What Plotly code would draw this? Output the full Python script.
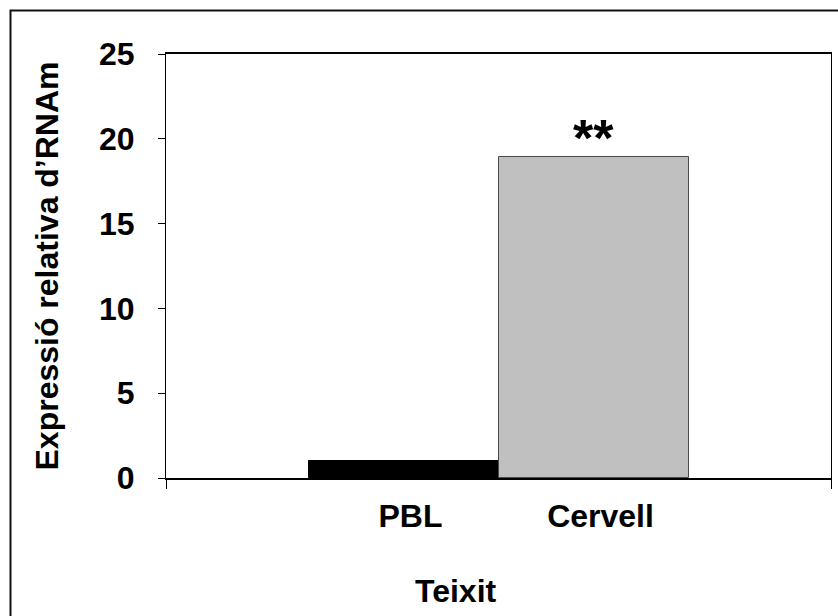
import plotly.graph_objects as go

# Relative mRNA expression by tissue
categories = ["PBL", "Cervell"]
values = [1.0, 18.9]
bar_colors = ["#000000", "#C0C0C0"]
edge_colors = ["#000000", "#4A4A4A"]
significance = "**"
y_ticks = [0, 5, 10, 15, 20, 25]

FONT = "Arial, 'Liberation Sans', sans-serif"
FS = 32

W, H = 838, 616
L, R, T, B = 166, 7, 54, 138
pw, ph = W - L - R, H - T - B

def px_x(x):
    return (x - L) / pw

def px_y(y):
    return (H - B - y) / ph

xpos = list(range(len(categories)))
x_range = [-1.25, len(categories) + 0.25]

fig = go.Figure()
fig.add_trace(go.Bar(
    x=xpos, y=values, width=1.0,
    marker=dict(color=bar_colors, line=dict(color=edge_colors, width=1)),
    showlegend=False, hoverinfo="skip",
))

# significance marker above the brain bar
fig.add_annotation(
    x=xpos[1], y=values[1], text="<b>" + significance + "</b>", showarrow=False,
    yanchor="bottom", yshift=-12,
    font=dict(family=FONT, size=52, color="black"),
)

# x axis title
fig.add_annotation(
    x=px_x(456), y=px_y(591), xref="paper", yref="paper",
    xanchor="center", yanchor="middle",
    text="<b>Teixit</b>", showarrow=False,
    font=dict(family=FONT, size=FS, color="black"),
)

# outer frame of the chart object
fig.add_shape(
    type="rect", xref="paper", yref="paper", layer="above",
    x0=px_x(10.5), y0=px_y(640), x1=px_x(860), y1=px_y(10.5),
    line=dict(color="#111111", width=2),
)

fig.update_layout(
    width=W, height=H,
    margin=dict(l=L, r=R, t=T, b=B, autoexpand=False),
    paper_bgcolor="white", plot_bgcolor="white",
    font=dict(family=FONT, color="black"),
    bargap=0,
    xaxis=dict(
        range=x_range, tickvals=xpos,
        ticktext=[f"<b>{c}</b>" for c in categories],
        tickfont=dict(family=FONT, size=FS, color="black"),
        ticks="", ticklabelstandoff=9, ticklabelshift=7,
        minor=dict(tickvals=x_range, ticks="outside", ticklen=9,
                   tickwidth=1, tickcolor="black", showgrid=False),
        showline=True, linecolor="black", linewidth=2, mirror=True,
        showgrid=False, zeroline=False, fixedrange=True,
    ),
    yaxis=dict(
        range=[0, 25], tickvals=y_ticks,
        ticktext=[f"<b>{v}</b>" for v in y_ticks],
        tickfont=dict(family=FONT, size=FS, color="black"),
        ticks="outside", ticklen=7, tickwidth=1, tickcolor="black",
        ticklabelstandoff=17,
        showline=True, linecolor="black", linewidth=1, mirror=True,
        showgrid=False, zeroline=False, fixedrange=True,
        title=dict(text="<b>Expressió relativa d’RNAm</b>",
                   font=dict(family=FONT, size=FS, color="black"),
                   standoff=30),
    ),
)

fig.write_html("out.html")
